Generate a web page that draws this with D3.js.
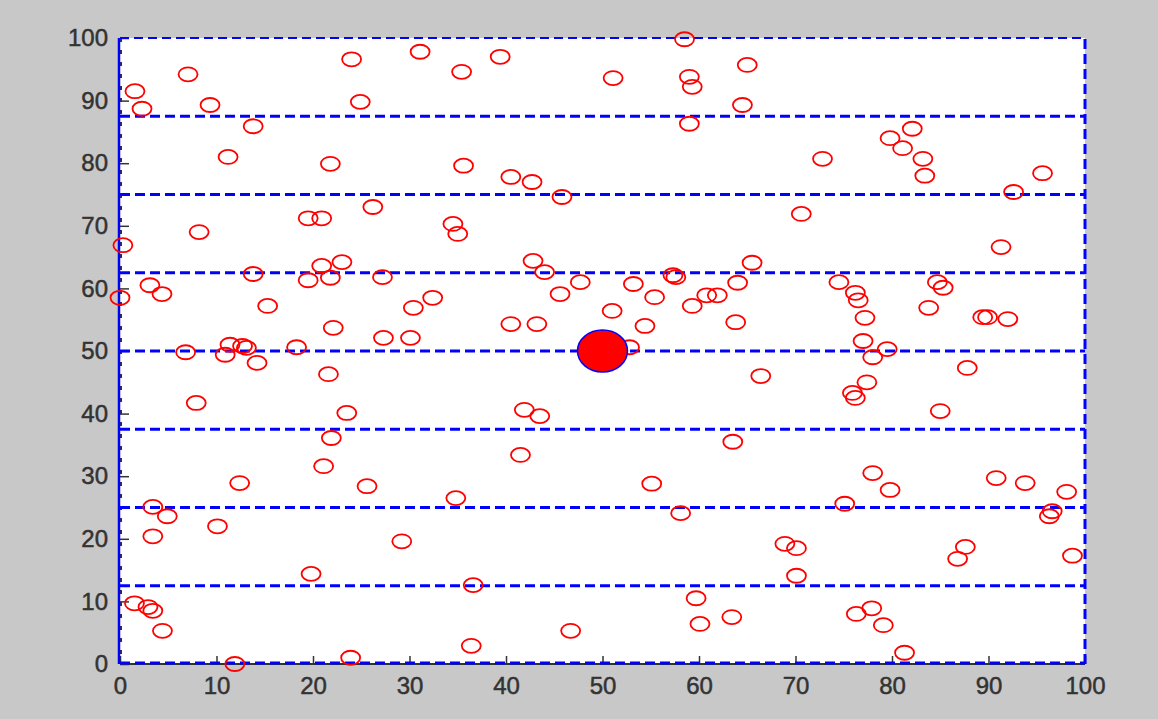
<!DOCTYPE html>
<html>
<head>
<meta charset="utf-8">
<script src="https://cdn.jsdelivr.net/npm/d3@7"></script>
<style>
  body { margin: 0; background: #c8c8c8; }
  svg { display: block; }
  .tick text { font-family: "Liberation Sans", Arial, sans-serif; }
</style>
</head>
<body>
<div id="chart"></div>
<script>
// scattered node positions (x, y)
var nodeX = [1.55, 2.28, 7.05, 9.33, 13.8, 11.2, 21.8, 24.0, 24.9, 31.1,
  26.2, 19.5, 20.9, 8.2, 0.3, 3.1, 4.35, 0, 13.8, 19.5,
  21.8, 20.9, 23.0, 27.2, 15.3, 22.1, 32.4, 30.4, 27.3, 30.1,
  6.8, 11.4, 12.7, 18.3, 39.4, 35.4, 51.1, 58.5, 59.0, 59.3,
  65.0, 64.5, 59.0, 35.6, 40.5, 42.7, 45.8, 34.5, 35.0, 42.8,
  44.0, 65.5, 47.7, 53.2, 57.3, 57.6, 64.0, 55.4, 60.8, 61.9,
  45.6, 51.0, 59.3, 40.5, 43.2, 54.4, 63.8, 52.8, 82.1, 79.8,
  81.1, 83.2, 72.8, 83.4, 95.6, 92.6, 70.6, 91.3, 74.5, 76.2,
  76.5, 84.7, 85.3, 83.8, 77.2, 89.4, 89.9, 92.0, 77.0, 79.5,
  78.0, 10.9, 14.2, 21.6, 7.9, 23.5, 21.9, 21.1, 12.4, 25.6,
  3.4, 4.9, 10.1, 3.4, 29.2, 19.8, 1.5, 2.9, 3.4, 4.4,
  11.9, 23.9, 41.9, 43.5, 41.5, 34.8, 55.1, 58.1, 63.5, 66.4,
  36.6, 59.7, 60.1, 63.4, 46.7, 36.4, 87.8, 77.4, 75.9, 76.2,
  85.0, 78.0, 79.8, 90.8, 93.8, 98.1, 75.1, 96.6, 96.3, 68.9,
  70.1, 87.6, 86.8, 98.7, 70.1, 76.3, 77.9, 79.1, 81.3, 13.1];
var nodeY = [91.5, 88.7, 94.2, 89.3, 85.9, 81.0, 79.9, 96.6, 89.8, 97.8,
  73.0, 71.2, 71.2, 69.0, 66.9, 60.5, 59.1, 58.5, 62.3, 61.3,
  61.7, 63.6, 64.2, 61.8, 57.2, 53.7, 58.5, 56.9, 52.1, 52.1,
  49.8, 51.0, 50.8, 50.6, 97.0, 94.6, 93.6, 99.8, 93.8, 92.2,
  95.7, 89.3, 86.3, 79.6, 77.8, 77.0, 74.6, 70.3, 68.7, 64.4,
  62.6, 64.1, 61.0, 60.7, 62.1, 61.8, 60.9, 58.6, 58.9, 58.9,
  59.1, 56.4, 57.2, 54.3, 54.3, 54.0, 54.6, 50.6, 85.5, 84.0,
  82.4, 80.7, 80.7, 78.0, 78.4, 75.4, 71.9, 66.6, 61.0, 59.3,
  58.1, 61.0, 60.1, 56.9, 55.3, 55.4, 55.4, 55.1, 51.6, 50.3,
  49.0, 49.4, 48.1, 46.3, 41.7, 40.1, 36.1, 31.6, 28.9, 28.4,
  25.1, 23.6, 22.0, 20.4, 19.6, 14.4, 9.7, 9.1, 8.5, 5.3,
  0, 1.0, 40.6, 39.6, 33.4, 26.5, 28.8, 24.1, 35.5, 46.0,
  12.6, 10.5, 6.4, 7.5, 5.3, 2.9, 47.3, 45.0, 43.3, 42.5,
  40.4, 30.5, 27.8, 29.7, 28.9, 27.5, 25.6, 24.4, 23.6, 19.2,
  18.5, 18.7, 16.8, 17.3, 14.1, 8.0, 8.9, 6.2, 1.8, 50.5];

// the centre node
var centerX = [50];
var centerY = [50];

// dashed horizontal band lines
var bandLines = [12.5, 25, 37.5, 50, 62.5, 75, 87.5];
var tickValues = [0, 10, 20, 30, 40, 50, 60, 70, 80, 90, 100];

var svgWidth = 1158, svgHeight = 719;
var margin = {left: 120, top: 38, right: 73, bottom: 55};
var w = svgWidth - margin.left - margin.right;
var h = svgHeight - margin.top - margin.bottom;

var svg = d3.select('#chart').append('svg')
    .attr('width', svgWidth)
    .attr('height', svgHeight);

svg.append('rect')
    .attr('width', svgWidth)
    .attr('height', svgHeight)
    .attr('fill', '#c8c8c8');

var g = svg.append('g').attr('transform', 'translate(' + margin.left + ',' + margin.top + ')');

var x = d3.scaleLinear().domain([0, 100]).range([0, w]);
var y = d3.scaleLinear().domain([0, 100]).range([h, 0]);

g.append('rect')
    .attr('width', w)
    .attr('height', h)
    .attr('fill', '#ffffff');

// black axis lines underneath the blue border
g.append('line')
    .attr('x1', 0).attr('x2', w)
    .attr('y1', h).attr('y2', h)
    .attr('stroke', '#333').attr('stroke-width', 2);
g.append('line')
    .attr('x1', 1).attr('x2', 1)
    .attr('y1', 0).attr('y2', h)
    .attr('stroke', '#333').attr('stroke-width', 2)
    .attr('stroke-dasharray', '4,8');

// axes with inward ticks
var xAxis = g.append('g')
    .attr('transform', 'translate(0,' + h + ')')
    .call(d3.axisBottom(x).tickValues(tickValues).tickSize(-8).tickPadding(13));
var yAxis = g.append('g')
    .call(d3.axisLeft(y).tickValues(tickValues).tickSize(-9).tickPadding(12));

[xAxis, yAxis].forEach(function(a) {
    a.select('.domain').remove();
    a.selectAll('.tick line').attr('stroke', '#333').attr('stroke-width', 1.5);
    a.selectAll('.tick text')
        .attr('fill', '#333')
        .attr('stroke', '#333')
        .attr('stroke-width', 0.5)
        .style('font-size', '24px');
});

// band lines
g.selectAll('.band')
    .data(bandLines)
    .enter().append('line')
    .attr('class', 'band')
    .attr('x1', 0)
    .attr('x2', w)
    .attr('y1', function(d) { return y(d); })
    .attr('y2', function(d) { return y(d); })
    .attr('stroke', '#0000ff')
    .attr('stroke-width', 3)
    .attr('stroke-dasharray', '10,5');

// border of the field
g.append('line')
    .attr('x1', 0).attr('x2', w)
    .attr('y1', y(100)).attr('y2', y(100))
    .attr('stroke', '#0000ff').attr('stroke-width', 2)
    .attr('stroke-dasharray', '9,5');
g.append('line')
    .attr('x1', 0).attr('x2', w)
    .attr('y1', y(0) - 1).attr('y2', y(0) - 1)
    .attr('stroke', '#0000ff').attr('stroke-width', 3)
    .attr('stroke-dasharray', '10,5');
g.append('line')
    .attr('x1', x(100)).attr('x2', x(100))
    .attr('y1', y(0)).attr('y2', y(100))
    .attr('stroke', '#0000ff').attr('stroke-width', 3)
    .attr('stroke-dasharray', '10,5');
g.append('line')
    .attr('x1', x(0) - 1).attr('x2', x(0) - 1)
    .attr('y1', y(0)).attr('y2', y(100))
    .attr('stroke', '#0000ff').attr('stroke-width', 2.5);

// nodes
g.selectAll('.node')
    .data(nodeX)
    .enter().append('ellipse')
    .attr('class', 'node')
    .attr('cx', function(d) { return x(d); })
    .attr('cy', function(d, i) { return y(nodeY[i]); })
    .attr('rx', 9.5)
    .attr('ry', 7)
    .attr('fill', 'none')
    .attr('stroke', '#ff0000')
    .attr('stroke-width', 1.8);

g.selectAll('.center')
    .data(centerX)
    .enter().append('ellipse')
    .attr('class', 'center')
    .attr('cx', function(d) { return x(d); })
    .attr('cy', function(d, i) { return y(centerY[i]); })
    .attr('rx', 25)
    .attr('ry', 21)
    .attr('fill', '#ff0000')
    .attr('stroke', '#0000ff')
    .attr('stroke-width', 1.5);
</script>
</body>
</html>
